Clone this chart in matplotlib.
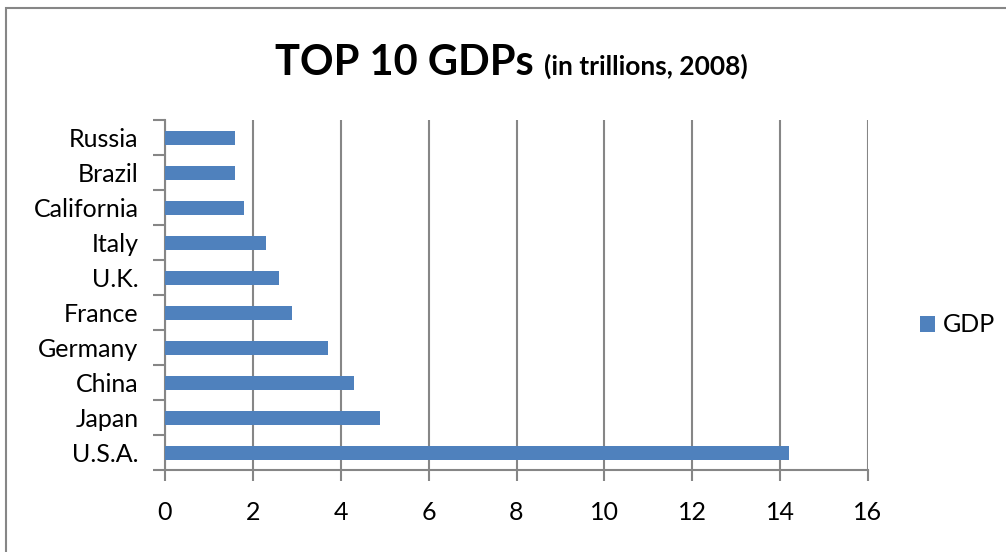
import matplotlib.pyplot as plt
from matplotlib.patches import Rectangle, Patch

# Data (2008 GDP, trillions), bottom to top as drawn
countries = ['U.S.A.', 'Japan', 'China', 'Germany', 'France',
             'U.K.', 'Italy', 'California', 'Brazil', 'Russia']
gdp = [14.2, 4.9, 4.3, 3.7, 2.9, 2.6, 2.3, 1.8, 1.6, 1.6]
xticks = [0, 2, 4, 6, 8, 10, 12, 14, 16]

bar_color = '#4F81BD'
grid_color = '#868686'

plt.rcParams['font.family'] = ['Lato', 'DejaVu Sans']

W, H = 1006, 552
fig = plt.figure(figsize=(W / 100, H / 100), dpi=100)
ax = fig.add_axes([165 / W, 1 - 470 / H, (868 - 165) / W, (470 - 120) / H])

pos = list(range(len(countries)))
ax.barh(pos, gdp, height=0.4, color=bar_color, label='GDP', zorder=3)

ax.set_xlim(0, 16)
ax.set_ylim(-0.5, len(countries) - 0.5)
ax.set_xticks(xticks)
ax.set_xticklabels([str(t) for t in xticks])

# category labels centred, tick marks between categories (Excel style)
ax.set_yticks(pos)
ax.set_yticklabels(countries)
ax.set_yticks([p - 0.5 for p in pos] + [len(countries) - 0.5], minor=True)
ax.tick_params(axis='y', which='major', length=0, pad=19, labelsize=18)
ax.tick_params(axis='y', which='minor', length=9, width=1.5, color=grid_color, direction='out')
ax.tick_params(axis='x', length=8, width=1.5, color=grid_color, direction='out', pad=14, labelsize=18)

ax.grid(axis='x', color=grid_color, linewidth=1.5, zorder=0)
for s in ['top', 'right']:
    ax.spines[s].set_visible(False)
for s in ['left', 'bottom']:
    ax.spines[s].set_color(grid_color)
    ax.spines[s].set_linewidth(1.5)

# title in two sizes
t1 = fig.text(275 / W, 1 - 75 / H, 'TOP 10 GDPs', fontsize=30, fontweight='bold',
              ha='left', va='baseline')
fig.canvas.draw()
bb = t1.get_window_extent()
fig.text((bb.x1 + 10) / W, 1 - 75 / H, '(in trillions, 2008)', fontsize=19,
         fontweight='bold', ha='left', va='baseline')

# legend
handle = Patch(facecolor=bar_color, edgecolor='none')
fig.legend([handle], ['GDP'], loc='center left', bbox_to_anchor=(920 / W, 1 - 325 / H),
           frameon=False, fontsize=18, handlelength=0.6, handleheight=0.6,
           handletextpad=0.3, borderaxespad=0, borderpad=0)

# outer chart border (right/bottom edges fall outside the image)
fig.patches.append(Rectangle((6 / W, -0.1), 1.2, 1.1 - 8 / H, transform=fig.transFigure,
                             fill=False, edgecolor=grid_color, linewidth=1.5))

fig.savefig('out.png', dpi=100)
